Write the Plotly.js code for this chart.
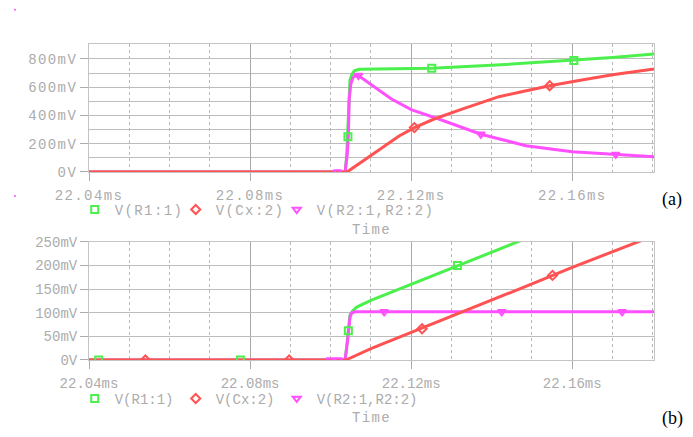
<!DOCTYPE html>
<html>
<head>
<meta charset="utf-8">
<script src="https://cdn.plot.ly/plotly-3.0.1.min.js"></script>
<style>
  html, body { margin: 0; padding: 0; background: #fff; }
  #plot { width: 693px; height: 437px; }
  /* PSpice-like wide monospace labels */
  .xtick text, .ytick text, .legendtext { letter-spacing: 1.4px; }
  .g-xtitle text, .g-x2title text { letter-spacing: 1.4px; }
  /* entries have a fixed width, so let the last legend text run past its box */
  .scrollbox { clip-path: none !important; }
</style>
</head>
<body>
<div id="plot"></div>
<script>
// ---- panel (a) : time in ms, voltage in mV ----
var tA_R1 = [22.04, 22.1036, 22.1040, 22.1042, 22.1045, 22.1048, 22.1053, 22.1059, 22.1071, 22.115, 22.1251, 22.14, 22.1604, 22.17, 22.1803];
var vA_R1 = [0, 0, 120, 250, 450, 651, 690, 717, 727, 730, 734, 755, 790, 810, 835];
var tA_Cx = [22.04, 22.1040, 22.1045, 22.107, 22.110, 22.1135, 22.117, 22.1208, 22.1257, 22.133, 22.1418, 22.148, 22.1544, 22.162, 22.17, 22.1803];
var vA_Cx = [0, 0, 8, 58, 112, 185, 255, 314, 375, 448, 533, 572, 611, 650, 688, 729];
var tA_R2 = [22.04, 22.1036, 22.1041, 22.1044, 22.1046, 22.1050, 22.1055, 22.1060, 22.1069, 22.1104, 22.115, 22.12, 22.127, 22.1373, 22.1485, 22.16, 22.1708, 22.1803];
var vA_R2 = [0, 0, 120, 250, 510, 620, 665, 680, 683, 611, 518, 441, 373, 267, 186, 144, 124, 108];

// marker positions (a)
var mA_R1_t = [22.1043, 22.1251, 22.1604];
var mA_R1_v = [250, 734, 790];
var mA_Cx_t = [22.1208, 22.1544];
var mA_Cx_v = [314, 611];
var mA_R2_t = [22.1017, 22.1069, 22.1373, 22.1708];
var mA_R2_v = [0, 683, 267, 124];

// ---- panel (b) ----
var tB_R1 = [22.04, 22.1036, 22.1040, 22.1044, 22.1048, 22.1055, 22.1065, 22.110, 22.117, 22.12, 22.1315, 22.1468, 22.15];
var vB_R1 = [0, 0, 30, 62, 95, 104, 112, 126, 150, 160, 200, 252, 262];
var tB_Cx = [22.04, 22.1038, 22.110, 22.12, 22.13, 22.14, 22.15, 22.16, 22.17, 22.177, 22.1803];
var vB_Cx = [0, 0, 24, 58, 92, 126, 161, 196, 230, 252, 263];
var tB_R2 = [22.04, 22.1036, 22.1042, 22.1045, 22.1048, 22.1052, 22.106, 22.1803];
var vB_R2 = [0, 0, 40, 72, 90, 99, 102, 102];

// marker positions (b)
var mB_R1_t = [22.0424, 22.0776, 22.1044, 22.1315];
var mB_R1_v = [0, 0, 62, 200];
var mB_Cx_t = [22.054, 22.0897, 22.1227, 22.1551];
var mB_Cx_v = [0, 0, 66, 179];
var mB_R2_t = [22.0999, 22.1019, 22.1133, 22.1425, 22.1724];
var mB_R2_v = [0, 0, 102, 102, 102];

// tick labels
var xTickVals = [22.04, 22.08, 22.12, 22.16];
var xTickText = ["22.04ms", "22.08ms", "22.12ms", "22.16ms"];
var yA_TickVals = [0, 200, 400, 600, 800];
var yA_TickText = ["0V", "200mV", "400mV", "600mV", "800mV"];
var yB_TickVals = [0, 50, 100, 150, 200, 250];
var yB_TickText = ["0V", "50mV", "100mV", "150mV", "200mV", "250mV"];

var names = ["V(R1:1)", "V(Cx:2)", "V(R2:1,R2:2)"];

var green = "#4cf04c", red = "#ff5252", magenta = "#ff50ff";
var gray = "#acacac";
var mono = "Liberation Mono, Courier New, monospace";

function line(x, y, color, xa, ya) {
    return {x: x, y: y, mode: "lines", line: {color: color, width: 3},
            xaxis: xa, yaxis: ya, showlegend: false, hoverinfo: "skip"};
}
function marks(x, y, color, symbol, name, xa, ya, leg) {
    return {x: x, y: y, mode: "markers", name: name,
            marker: {color: color, symbol: symbol, size: 7, line: {color: color, width: 2}},
            xaxis: xa, yaxis: ya, legend: leg};
}

var plotData = [
    line(tA_R1, vA_R1, green, "x", "y"),
    line(tA_R2, vA_R2, magenta, "x", "y"),
    line(tA_Cx, vA_Cx, red, "x", "y"),
    marks(mA_R1_t, mA_R1_v, green, "square-open", names[0], "x", "y", "legend"),
    marks(mA_Cx_t, mA_Cx_v, red, "diamond-open", names[1], "x", "y", "legend"),
    marks(mA_R2_t, mA_R2_v, magenta, "triangle-down-open", names[2], "x", "y", "legend"),

    line(tB_R1, vB_R1, green, "x2", "y2"),
    line(tB_R2, vB_R2, magenta, "x2", "y2"),
    line(tB_Cx, vB_Cx, red, "x2", "y2"),
    marks(mB_R1_t, mB_R1_v, green, "square-open", names[0], "x2", "y2", "legend2"),
    marks(mB_Cx_t, mB_Cx_v, red, "diamond-open", names[1], "x2", "y2", "legend2"),
    marks(mB_R2_t, mB_R2_v, magenta, "triangle-down-open", names[2], "x2", "y2", "legend2")
];

function xAxis(anchor) {
    return {
        anchor: anchor, range: [22.04, 22.1803],
        tickmode: "array", tickvals: xTickVals, ticktext: xTickText,
        ticks: "outside", ticklen: 8, tickcolor: gray, ticklabelstandoff: 2,
        tickfont: {family: mono, size: 14, color: gray},
        showline: true, mirror: true, linecolor: "#c4c4c4", linewidth: 1,
        showgrid: true, gridcolor: "#a8a8a8", gridwidth: 1,
        minor: {tick0: 22.04, dtick: 0.01, showgrid: true, griddash: "dot", gridcolor: "#b8b8b8", gridwidth: 1},
        zeroline: false, fixedrange: true,
        title: {text: "Time", font: {family: mono, size: 14, color: gray}, standoff: 21}
    };
}
function yAxis(domain, range, vals, text, minor) {
    var ax = {
        domain: domain, range: range,
        tickmode: "array", tickvals: vals, ticktext: text,
        ticks: "outside", ticklen: 8, tickcolor: gray,
        tickfont: {family: mono, size: 14, color: gray},
        showline: true, mirror: true, linecolor: "#c4c4c4", linewidth: 1,
        showgrid: true, gridcolor: "#bcbcbc", gridwidth: 1,
        zeroline: false, fixedrange: true
    };
    if (minor) ax.minor = {tick0: 0, dtick: minor, showgrid: true, gridcolor: "#bcbcbc", gridwidth: 1};
    return ax;
}

var legendStyle = function (y) {
    return {orientation: "h", x: -0.0253, xanchor: "left", y: y, yanchor: "middle",
            font: {family: mono, size: 14, color: gray}, entrywidth: 56,
            bgcolor: "rgba(0,0,0,0)", borderwidth: 0, itemclick: false};
};

var serif = {family: "Liberation Serif, Times New Roman, serif", size: 18, color: "#000"};

var layout = {
    width: 693, height: 437,
    margin: {l: 89, r: 39, t: 44, b: 77},
    paper_bgcolor: "#ffffff", plot_bgcolor: "#ffffff",
    xaxis: xAxis("y"),
    yaxis: yAxis([0.595, 1], [0, 906], yA_TickVals, yA_TickText, 100),
    xaxis2: xAxis("y2"),
    yaxis2: yAxis([0, 0.374], [0, 250], yB_TickVals, yB_TickText, 0),
    legend: legendStyle(0.475),
    legend2: legendStyle(-0.123),
    annotations: [
        {text: "(a)", xref: "paper", yref: "paper", x: 1.032, y: 0.509, xanchor: "center", yanchor: "middle",
         showarrow: false, font: serif},
        {text: "(b)", xref: "paper", yref: "paper", x: 1.032, y: -0.184, xanchor: "center", yanchor: "middle",
         showarrow: false, font: serif}
    ],
    shapes: [
        {type: "circle", xref: "paper", yref: "paper", xsizemode: "pixel", ysizemode: "pixel",
         xanchor: -0.131, yanchor: 1.108, x0: -1, x1: 1, y0: -1, y1: 1,
         fillcolor: magenta, line: {width: 0}},
        {type: "circle", xref: "paper", yref: "paper", xsizemode: "pixel", ysizemode: "pixel",
         xanchor: -0.131, yanchor: 0.519, x0: -1, x1: 1, y0: -1, y1: 1,
         fillcolor: magenta, line: {width: 0}}
    ]
};

Plotly.newPlot("plot", plotData, layout, {displayModeBar: false, staticPlot: true});
</script>
</body>
</html>
